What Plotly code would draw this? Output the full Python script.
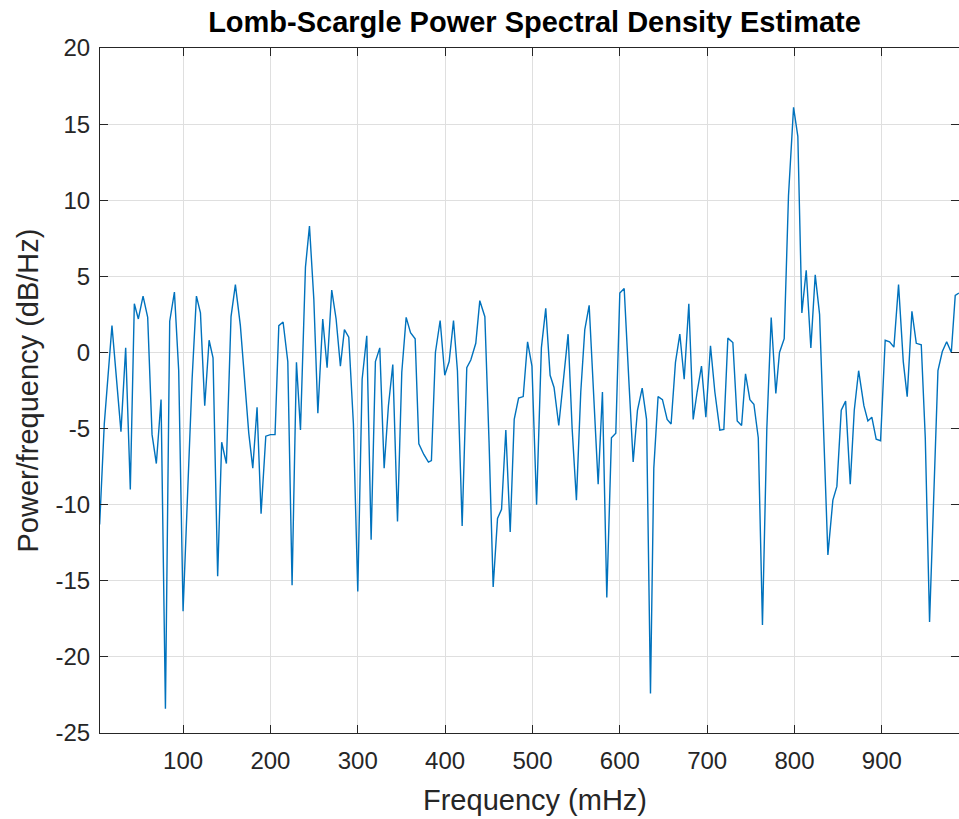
import plotly.graph_objects as go

freq_mhz = [4.5, 9.8, 18.6, 28.9, 34.3, 39.6, 44.2, 48.8, 54.2, 59.5, 64.5, 69.4, 74.8, 79.8, 84.7, 90.1, 95.0, 100.0,
            105.3, 110.3, 115.3, 119.9, 124.8, 129.8, 134.3, 139.6, 144.2, 149.6, 154.9, 159.9, 165.6, 170.2, 175.2,
            179.8, 184.7, 189.3, 194.7, 200.0, 205.3, 209.6, 214.5, 219.9, 224.8, 229.8, 234.4, 240.1, 244.7, 249.7,
            254.3, 259.9, 264.9, 270.2, 275.2, 280.1, 284.7, 289.7, 295.0, 300.0, 305.0, 310.3, 315.3, 320.2, 325.2,
            330.2, 335.1, 340.1, 345.5, 350.4, 355.4, 360.4, 365.7, 369.9, 375.6, 380.9, 384.3, 388.9, 394.3, 399.6,
            404.6, 409.6, 414.1, 419.5, 424.8, 429.4, 435.1, 439.7, 445.5, 450.3, 455.0, 460.0, 464.6, 469.5, 474.5,
            479.1, 484.1, 489.4, 494.4, 499.4, 504.7, 510.2, 515.2, 520.2, 524.7, 530.1, 535.1, 540.8, 545.4, 550.3,
            555.3, 559.9, 564.9, 570.2, 575.2, 580.1, 585.1, 590.4, 595.4, 600.0, 605.0, 610.3, 615.3, 620.2, 625.6,
            630.6, 635.1, 638.9, 643.8, 648.8, 654.2, 658.7, 663.7, 668.7, 673.7, 679.0, 684.0, 688.5, 693.5, 698.5,
            703.8, 708.8, 714.5, 719.1, 723.7, 729.4, 734.4, 739.4, 743.9, 748.9, 753.5, 758.5, 763.3, 768.3, 773.3,
            778.6, 782.8, 788.2, 793.1, 798.9, 803.8, 808.4, 813.4, 818.7, 823.7, 828.7, 833.2, 838.2, 843.9, 848.5,
            853.5, 858.5, 863.8, 868.4, 873.4, 879.4, 884.0, 888.5, 893.5, 898.5, 903.8, 908.8, 913.8, 919.1, 924.5,
            929.0, 934.4, 939.4, 945.1, 949.7, 954.6, 959.6, 964.2, 969.2, 974.2, 979.5, 984.0, 988.2]

psd_db = [-11.3, -4.7, 1.76, -5.2, 0.3, -9.0, 3.2, 2.2, 3.7, 2.3, -5.4, -7.3, -3.1, -23.4, 2.05, 3.96, -1.2, -17.0,
          -9.1, -1.8, 3.7, 2.6, -3.5, 0.8, -0.35, -14.7, -5.9, -7.3, 2.35, 4.46, 1.76, -1.76, -5.3,
          -7.6, -3.6, -10.6, -5.5, -5.4, -5.4, 1.76, 2.0, -0.6, -15.3, -0.65, -5.1, 5.6, 8.3, 3.5,
          -4.0, 2.2, -1.0, 4.1, 2.2, -0.9, 1.5, 1.0, -4.7, -15.7, -1.76, 1.1, -12.3, -0.6, 0.3,
          -7.6, -3.5, -0.8, -11.1, -1.3, 2.3, 1.3, 0.9, -6.0, -6.7, -7.2, -7.1, 0.0, 2.1, -1.5,
          -0.6, 2.1, -1.2, -11.4, -1.0, -0.5, 0.6, 3.4, 2.35, -5.9, -15.4, -10.9, -10.3, -5.1, -11.8,
          -4.4, -3.0, -2.9, 0.7, -0.9, -10.0, 0.3, 2.9, -1.5, -2.3, -4.8, -1.9, 1.2, -5.0, -9.7,
          -2.6, 1.5, 3.1, -2.9, -8.65, -2.6, -16.1, -5.6, -5.3, 3.9, 4.2, -1.8, -7.2, -3.8, -2.35,
          -4.4, -22.4, -7.6, -2.9, -3.1, -4.4, -4.7, -0.65, 1.2, -1.76, 3.2, -4.4, -2.6, -0.9, -4.25,
          0.44, -2.6, -5.1, -5.05, 0.94, 0.65, -4.5, -4.8, -1.4, -3.1, -3.4, -5.6, -17.9, -5.0, 2.3,
          -2.7, 0.0, 0.9, 10.3, 16.1, 14.2, 2.6, 5.4, 0.3, 5.1, 2.5, -5.3, -13.3, -9.7, -8.8,
          -3.8, -3.2, -8.65, -3.8, -1.2, -3.5, -4.5, -4.25, -5.7, -5.8, 0.8, 0.7, 0.35, 4.46, -0.6,
          -2.9, 2.7, 0.6, 0.5, -5.6, -17.7, -9.1, -1.2, 0.06, 0.7, 0.0, 3.75, 3.9]

x_ticks = [100, 200, 300, 400, 500, 600, 700, 800, 900]
y_ticks = [-25, -20, -15, -10, -5, 0, 5, 10, 15, 20]
y_tick_labels = ["-25", "-20", "-15", "-10", "-5", "0", "5", "10", "15", "20"]

FONT = "Liberation Sans, Arial, Helvetica, sans-serif"
INK = "#262626"

FIG_W, FIG_H = 959, 819

fig = go.Figure()
fig.add_trace(go.Scatter(x=freq_mhz, y=psd_db, mode="lines",
                         line=dict(color="#0072BD", width=1.4), showlegend=False))

axis_common = dict(showline=True, linecolor=INK, linewidth=1, mirror="allticks",
                   ticks="inside", ticklen=8, tickcolor=INK, tickwidth=1,
                   showgrid=True, gridcolor="#dfdfdf", gridwidth=1, zeroline=False,
                   automargin=False,
                   tickfont=dict(family=FONT, size=24, color=INK))

fig.update_xaxes(range=[4.9, 988.3], tickvals=x_ticks, ticklabelstandoff=6, **axis_common)
fig.update_yaxes(range=[-25, 20], tickvals=y_ticks, ticktext=y_tick_labels, ticklabelstandoff=4,
                 **axis_common)

fig.update_layout(
    width=FIG_W, height=FIG_H,
    margin=dict(l=100, r=0, t=48, b=86),
    paper_bgcolor="white", plot_bgcolor="white",
    title=dict(text="<b>Lomb-Scargle Power Spectral Density Estimate</b>",
               xref="container", x=534.5 / FIG_W, xanchor="center",
               yref="container", y=1 - 22 / FIG_H, yanchor="middle",
               font=dict(family=FONT, size=29, color="#000000")),
    annotations=[
        dict(text="Frequency (mHz)", xref="paper", yref="paper", x=(534.5 - 100) / 859,
             y=(733 - 800) / 685, xanchor="center", yanchor="middle", showarrow=False,
             font=dict(family=FONT, size=29, color=INK)),
        dict(text="Power/frequency (dB/Hz)", xref="paper", yref="paper", x=(27 - 100) / 859,
             y=0.5, xanchor="center", yanchor="middle", showarrow=False, textangle=-90,
             font=dict(family=FONT, size=29, color=INK)),
    ],
)

fig.write_html(
    "out.html",
    config={"displayModeBar": False},
    post_script="document.body.style.margin='0';document.body.style.overflow='hidden';",
)
